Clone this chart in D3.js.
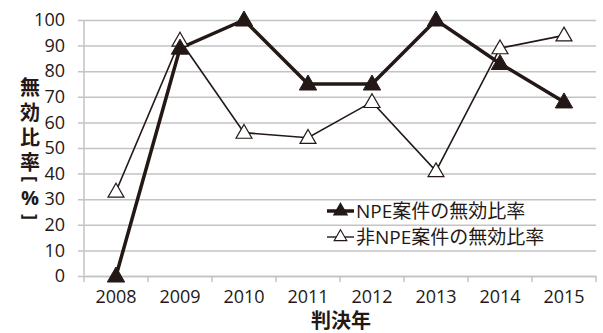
<!DOCTYPE html>
<html>
<head>
<meta charset="utf-8">
<script src="https://cdn.jsdelivr.net/npm/d3@7"></script>
<style>
  html, body { margin: 0; padding: 0; background: #fff; }
  text { font-family: "Open Sans", "Noto Sans CJK JP", sans-serif; }
</style>
</head>
<body>
<svg id="chart" width="603" height="333"></svg>
<script>
// 判決年ごとの無効比率（%）
const years = ["2008", "2009", "2010", "2011", "2012", "2013", "2014", "2015"];
const npeRates = [0, 89, 100, 75, 75, 100, 83, 68];
const nonNpeRates = [33, 92, 56, 54, 68, 41, 89, 94];
const yTicks = [0, 10, 20, 30, 40, 50, 60, 70, 80, 90, 100];
const seriesNames = ["NPE案件の無効比率", "非NPE案件の無効比率"];
const yTitleChars = ["無", "効", "比", "率", "[", "%", "]"];
const xTitle = "判決年";

const ink = "#231815";
const gridColor = "#c3c3c3";
const labelFont = "'Open Sans', 'Noto Sans CJK JP', sans-serif";

const svg = d3.select("#chart");
const plotLeft = 84, plotRight = 596, plotTop = 20, plotBottom = 276;

const x = d3.scaleBand().domain(years).range([plotLeft, plotRight]);
const y = d3.scaleLinear().domain([0, 100]).range([plotBottom, plotTop]);

// horizontal gridlines with small ticks left of the axis
svg.append("g")
  .attr("transform", `translate(${plotLeft},0)`)
  .call(d3.axisLeft(y).tickValues(yTicks).tickSize(-(plotRight - plotLeft)).tickSizeOuter(0).tickPadding(19).tickFormat(d3.format("d")))
  .call(g => g.select(".domain").remove())
  .call(g => g.selectAll(".tick line").attr("x1", -6).attr("stroke", gridColor).attr("stroke-width", 1.5))
  .call(g => g.selectAll(".tick text").attr("fill", ink).attr("font-size", 18)
      .attr("font-family", labelFont));

// vertical axis line
svg.append("line")
  .attr("x1", plotLeft).attr("x2", plotLeft).attr("y1", plotTop).attr("y2", plotBottom)
  .attr("stroke", gridColor).attr("stroke-width", 1.5);

// x axis with ticks on category boundaries
svg.append("g")
  .attr("transform", `translate(0,${plotBottom})`)
  .call(d3.axisBottom(x).tickSize(0).tickPadding(14))
  .call(g => g.select(".domain").attr("stroke", gridColor).attr("stroke-width", 1.5))
  .call(g => g.selectAll(".tick text").attr("fill", ink).attr("font-size", 18)
      .attr("font-family", labelFont));
const bounds = years.map(d => x(d)).concat([x(years[years.length - 1]) + x.bandwidth()]);
svg.append("g").selectAll("line").data(bounds).join("line")
  .attr("x1", d => d).attr("x2", d => d)
  .attr("y1", plotBottom).attr("y2", plotBottom + 6)
  .attr("stroke", gridColor).attr("stroke-width", 1.5);

const cx = d => x(d) + x.bandwidth() / 2;
const tri = d3.symbol().type(d3.symbolTriangle);

const nonNpe = years.map((d, i) => ({ year: d, v: nonNpeRates[i] }));
const npe = years.map((d, i) => ({ year: d, v: npeRates[i] }));

const line = d3.line().x(d => cx(d.year)).y(d => y(d.v));

// non-NPE series: thin line
svg.append("path").datum(nonNpe)
  .attr("d", line).attr("fill", "none").attr("stroke", ink).attr("stroke-width", 1.6);

// NPE series: thick line
svg.append("path").datum(npe)
  .attr("d", line).attr("fill", "none").attr("stroke", ink).attr("stroke-width", 3.5)
  .attr("stroke-linejoin", "miter");

svg.append("g").selectAll("path").data(nonNpe).join("path")
  .attr("d", tri.size(110))
  .attr("transform", d => `translate(${cx(d.year)},${y(d.v) + 1})`)
  .attr("fill", "#fff").attr("stroke", ink).attr("stroke-width", 1.2);

svg.append("g").selectAll("path").data(npe).join("path")
  .attr("d", tri.size(130))
  .attr("transform", d => `translate(${cx(d.year)},${y(d.v) + 1})`)
  .attr("fill", ink).attr("stroke", ink).attr("stroke-width", 1);

// legend
const legend = svg.append("g");
const legendRows = [
  { name: seriesNames[0], width: 3.5, fill: ink, size: 80, y: 211 },
  { name: seriesNames[1], width: 1.4, fill: "#fff", size: 70, y: 237 }
];
legendRows.forEach(r => {
  legend.append("line").attr("x1", 327).attr("x2", 354).attr("y1", r.y).attr("y2", r.y)
    .attr("stroke", ink).attr("stroke-width", r.width);
  legend.append("path").attr("d", tri.size(r.size))
    .attr("transform", `translate(340.5,${r.y})`)
    .attr("fill", r.fill).attr("stroke", ink).attr("stroke-width", 1.1);
  legend.append("text").attr("x", 356).attr("y", r.y).attr("dy", "0.36em")
    .attr("fill", ink).attr("font-size", 19).text(r.name);
});

// vertical axis title: brackets turned sideways, other characters upright
const yTitlePos = [88, 113, 138, 163, 179, 198, 217];
svg.append("g").selectAll("text").data(yTitleChars).join("text")
  .attr("transform", (d, i) => {
    const rot = (d === "[" || d === "]") ? " rotate(90)" : "";
    return `translate(30,${yTitlePos[i]})${rot}`;
  })
  .attr("dy", "0.36em")
  .attr("text-anchor", "middle")
  .attr("font-size", d => (d === "[" || d === "]") ? 18 : 20)
  .attr("font-weight", "bold").attr("fill", ink)
  .attr("font-family", "'Noto Sans CJK JP', sans-serif")
  .text(d => d);

svg.append("text")
  .attr("x", 341).attr("y", 321).attr("dy", "0.36em")
  .attr("text-anchor", "middle")
  .attr("font-size", 20).attr("font-weight", "bold").attr("fill", ink)
  .attr("font-family", "'Noto Sans CJK JP', sans-serif")
  .text(xTitle);
</script>
</body>
</html>
